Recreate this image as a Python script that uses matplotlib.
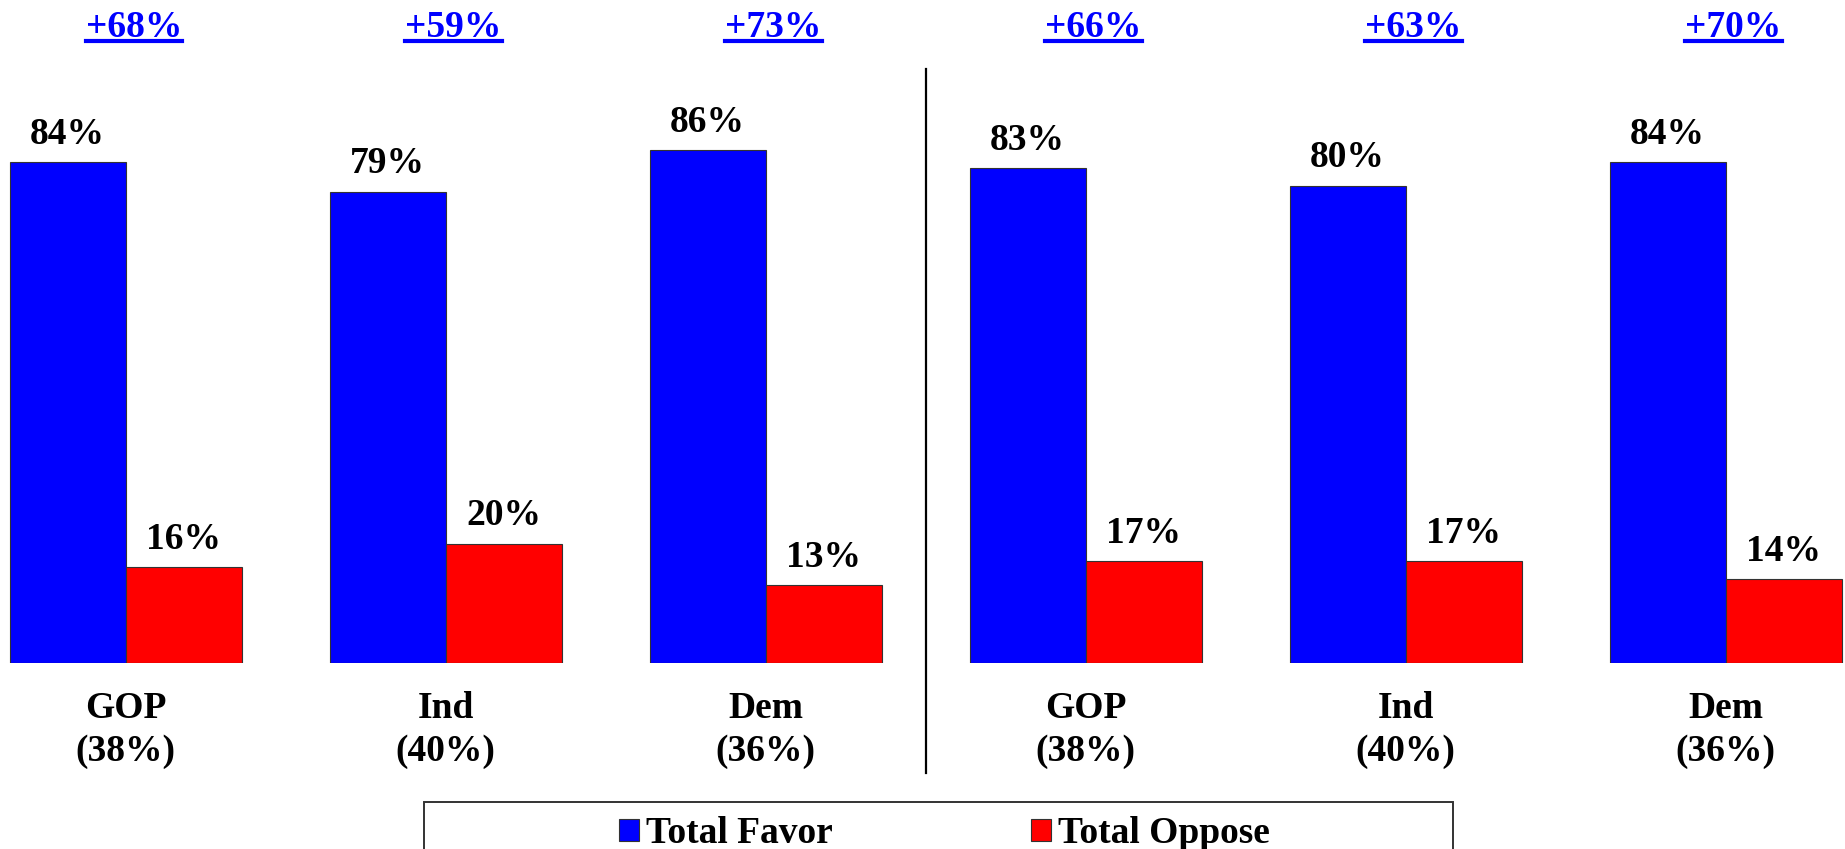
import numpy as np
import matplotlib
matplotlib.use('Agg')
import matplotlib.pyplot as plt
from matplotlib.lines import Line2D
from matplotlib.patches import Rectangle


groups = ['GOP', 'Ind', 'Dem', 'GOP', 'Ind', 'Dem']
groupShares = ['(38%)', '(40%)', '(36%)', '(38%)', '(40%)', '(36%)']
totalFavor = [84, 79, 86, 83, 80, 84]
totalOppose = [16, 20, 13, 17, 17, 14]

BLUE = '#0000FF'
RED = '#FF0000'
FONT = 'Liberation Serif'


def drawBars(ax, x, width):
    '''
    paired favor / oppose bars for every group
    '''
    favor = ax.bar(x - width/2, totalFavor, width, color=BLUE,
                   edgecolor='#333333', linewidth=0.8, label='Total Favor')
    oppose = ax.bar(x + width/2, totalOppose, width, color=RED,
                    edgecolor='#333333', linewidth=0.8, label='Total Oppose')
    for bars, vals in ((favor, totalFavor), (oppose, totalOppose)):
        for b, v in zip(bars, vals):
            ax.annotate('%d%%' % v, (b.get_x() + b.get_width()/2, v),
                        xytext=(0, 13.3), textcoords='offset points',
                        ha='center', va='baseline', fontsize=27,
                        fontweight='bold', family=FONT)
    return favor, oppose


def drawGroupLabels(ax, x):
    for xi, name, share in zip(x, groups, groupShares):
        ax.annotate(name, (xi, 0), xytext=(0, -40), textcoords='offset points',
                    ha='center', va='baseline', fontsize=27,
                    fontweight='bold', family=FONT, annotation_clip=False)
        ax.annotate(share, (xi, 0), xytext=(0, -70.8), textcoords='offset points',
                    ha='center', va='baseline', fontsize=27,
                    fontweight='bold', family=FONT, annotation_clip=False)


def drawMargins(fig, ax, x):
    '''
    net favor above each group, underlined like a link
    '''
    margins = np.array(totalFavor) - np.array(totalOppose)
    texts = []
    for xi, m in zip(x, margins):
        t = ax.text(xi + 0.025, 105.0, '+%d%%' % m, ha='center', va='baseline',
                    fontsize=27, fontweight='bold', family=FONT, color=BLUE)
        texts.append(t)
    fig.canvas.draw()
    renderer = fig.canvas.get_renderer()
    ty = ax.transData.transform((0, 105.0))[1] - 4.5
    for t in texts:
        bb = t.get_window_extent(renderer)
        fig.lines.append(Line2D([bb.x0, bb.x1], [ty, ty], transform=None,
                                color=BLUE, linewidth=3.0))


fig = plt.figure(figsize=(18.45, 8.49), dpi=100)
bottom = (849 - 662.7) / 849
ax = fig.add_axes([0, bottom, 1, 1 - bottom])

x = np.arange(len(groups))
width = 116 / 320
favor, oppose = drawBars(ax, x, width)
drawGroupLabels(ax, x)

ax.set_xlim(-125.7/320, 5 + (1845 - 1725.6)/320)
ax.set_ylim(0, 662.7/5.96)
ax.axis('off')

# divider between the two halves
ax.plot([2.5, 2.5], [-18.5, 99.6], color='black', linewidth=1.6, clip_on=False)

# legend with its own frame running off the bottom edge
fig.legend(handles=[favor, oppose], loc='lower center', ncol=2,
           bbox_to_anchor=(0.512, -0.029), frameon=False, borderpad=0.1,
           prop={'family': FONT, 'weight': 'bold', 'size': 27},
           handlelength=0.53, handleheight=0.515, handletextpad=0.19,
           columnspacing=5.3)
fig.patches.append(Rectangle((424/1845, -0.1), (1452.7 - 424)/1845,
                             (849 - 802.3)/849 + 0.1, transform=fig.transFigure,
                             fill=False, edgecolor='#333333', linewidth=1.4))

drawMargins(fig, ax, x)

fig.savefig('out.png', dpi=100)
